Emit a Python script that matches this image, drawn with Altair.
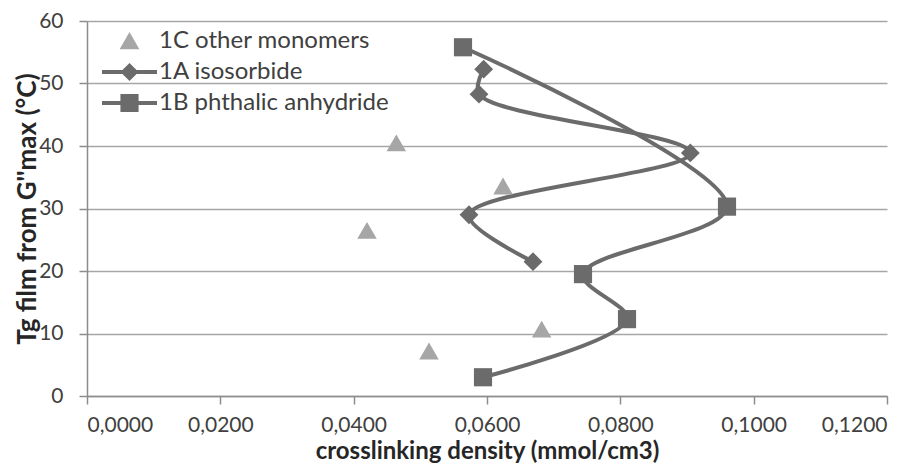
import altair as alt
import pandas as pd

series_names = ["1C other monomers", "1A isosorbide", "1B phthalic anhydride"]

other_x = [0.0464, 0.0420, 0.0624, 0.0682, 0.0513]
other_y = [40.5, 26.5, 33.6, 10.7, 7.2]

iso_x = [0.0595, 0.0588, 0.0905, 0.0573, 0.0669]
iso_y = [52.3, 48.3, 38.9, 29.0, 21.5]

pht_x = [0.0564, 0.0960, 0.0744, 0.0810, 0.0594]
pht_y = [55.8, 30.3, 19.5, 12.3, 3.0]

x_ticks = [0.0, 0.02, 0.04, 0.06, 0.08, 0.10, 0.12]
y_ticks = [0, 10, 20, 30, 40, 50, 60]

rows = []
for name, xs, ys in [(series_names[0], other_x, other_y),
                     (series_names[1], iso_x, iso_y),
                     (series_names[2], pht_x, pht_y)]:
    for i, (xv, yv) in enumerate(zip(xs, ys)):
        rows.append({"series": name, "x": xv, "y": yv, "idx": i})
df = pd.DataFrame(rows)

FONT = "Lato"
DARK = "#6b6b6b"
LIGHT = "#a6a6a6"

x_enc = alt.X(
    "x:Q",
    scale=alt.Scale(domain=[0, 0.12], nice=False, zero=False),
    axis=alt.Axis(
        values=x_ticks,
        labelExpr="replace(format(datum.value, '.4f'), '.', ',')",
        title="crosslinking density (mmol/cm3)",
        titleFontSize=24,
        grid=False,
        labelPadding=10,
        titlePadding=4,
    ),
)
y_enc = alt.Y(
    "y:Q",
    scale=alt.Scale(domain=[0, 60], nice=False),
    axis=alt.Axis(
        values=y_ticks,
        title="Tg film from G''max (°C)",
        titleFontSize=26,
        grid=True,
        labelPadding=16,
        titlePadding=-2,
    ),
)

color_scale = alt.Scale(domain=series_names, range=[LIGHT, DARK, DARK])

lines = (
    alt.Chart(df)
    .transform_filter(alt.datum.series != series_names[0])
    .mark_line(interpolate="catmull-rom", strokeWidth=4)
    .encode(
        x=x_enc,
        y=y_enc,
        color=alt.Color("series:N", scale=color_scale, legend=None),
        detail="series:N",
        order=alt.Order("idx:Q"),
    )
)

points = (
    alt.Chart(df)
    .mark_point(filled=True, opacity=1, strokeWidth=0)
    .encode(
        x=x_enc,
        y=y_enc,
        color=alt.Color("series:N", scale=color_scale, legend=None),
        shape=alt.Shape(
            "series:N",
            scale=alt.Scale(domain=series_names, range=["triangle-up", "diamond", "square"]),
            legend=None,
        ),
        size=alt.Size(
            "series:N",
            scale=alt.Scale(domain=series_names, range=[380, 330, 370]),
            legend=None,
        ),
    )
)

tri_path = "M0,-0.33L0.36,0.3L-0.36,0.3Z"
dia_path = "M-1,-0.075H1V0.075H-1Z M-0.33,0L0,-0.33L0.33,0L0,0.33Z"
sq_path = "M-1,-0.075H1V0.075H-1Z M-0.33,-0.33H0.33V0.33H-0.33Z"

legend_props = dict(
    orient="none", legendX=15, legendY=5, title=None,
    labelFont=FONT, labelFontSize=24, labelColor="#404040", labelLimit=0,
    symbolSize=3025, clipHeight=30, rowPadding=1,
    labelOffset=2, symbolStrokeWidth=0, padding=0,
    symbolOpacity=1,
)

legend_layer = (
    alt.Chart(df)
    .transform_filter("false")
    .mark_point(filled=True, opacity=1)
    .encode(
        x=x_enc,
        y=y_enc,
        color=alt.Color("series:N", scale=color_scale, legend=alt.Legend(**legend_props)),
        shape=alt.Shape(
            "series:N",
            scale=alt.Scale(domain=series_names, range=[tri_path, dia_path, sq_path]),
            legend=alt.Legend(**legend_props),
        ),
    )
)

chart = (
    alt.layer(lines, points, legend_layer)
    .resolve_scale(color="independent", shape="independent", size="independent")
    .properties(
        width=800,
        height=375,
        autosize=alt.AutoSizeParams(type="none"),
        padding={"left": 79, "top": 13, "right": 29, "bottom": 69},
    )
    .configure_view(stroke=None)
    .configure_axis(
        domainColor="#8c8c8c",
        domainWidth=1.5,
        tickColor="#8c8c8c",
        tickWidth=1.5,
        tickSize=8,
        gridColor="#a6a6a6",
        gridWidth=1.5,
        labelFont=FONT,
        labelFontSize=21,
        labelColor="#404040",
        titleFont=FONT,
        titleFontWeight="bold",
        titleColor="#262626",
    )
)

chart.save("out.html", embed_options={"renderer": "svg", "actions": False})
